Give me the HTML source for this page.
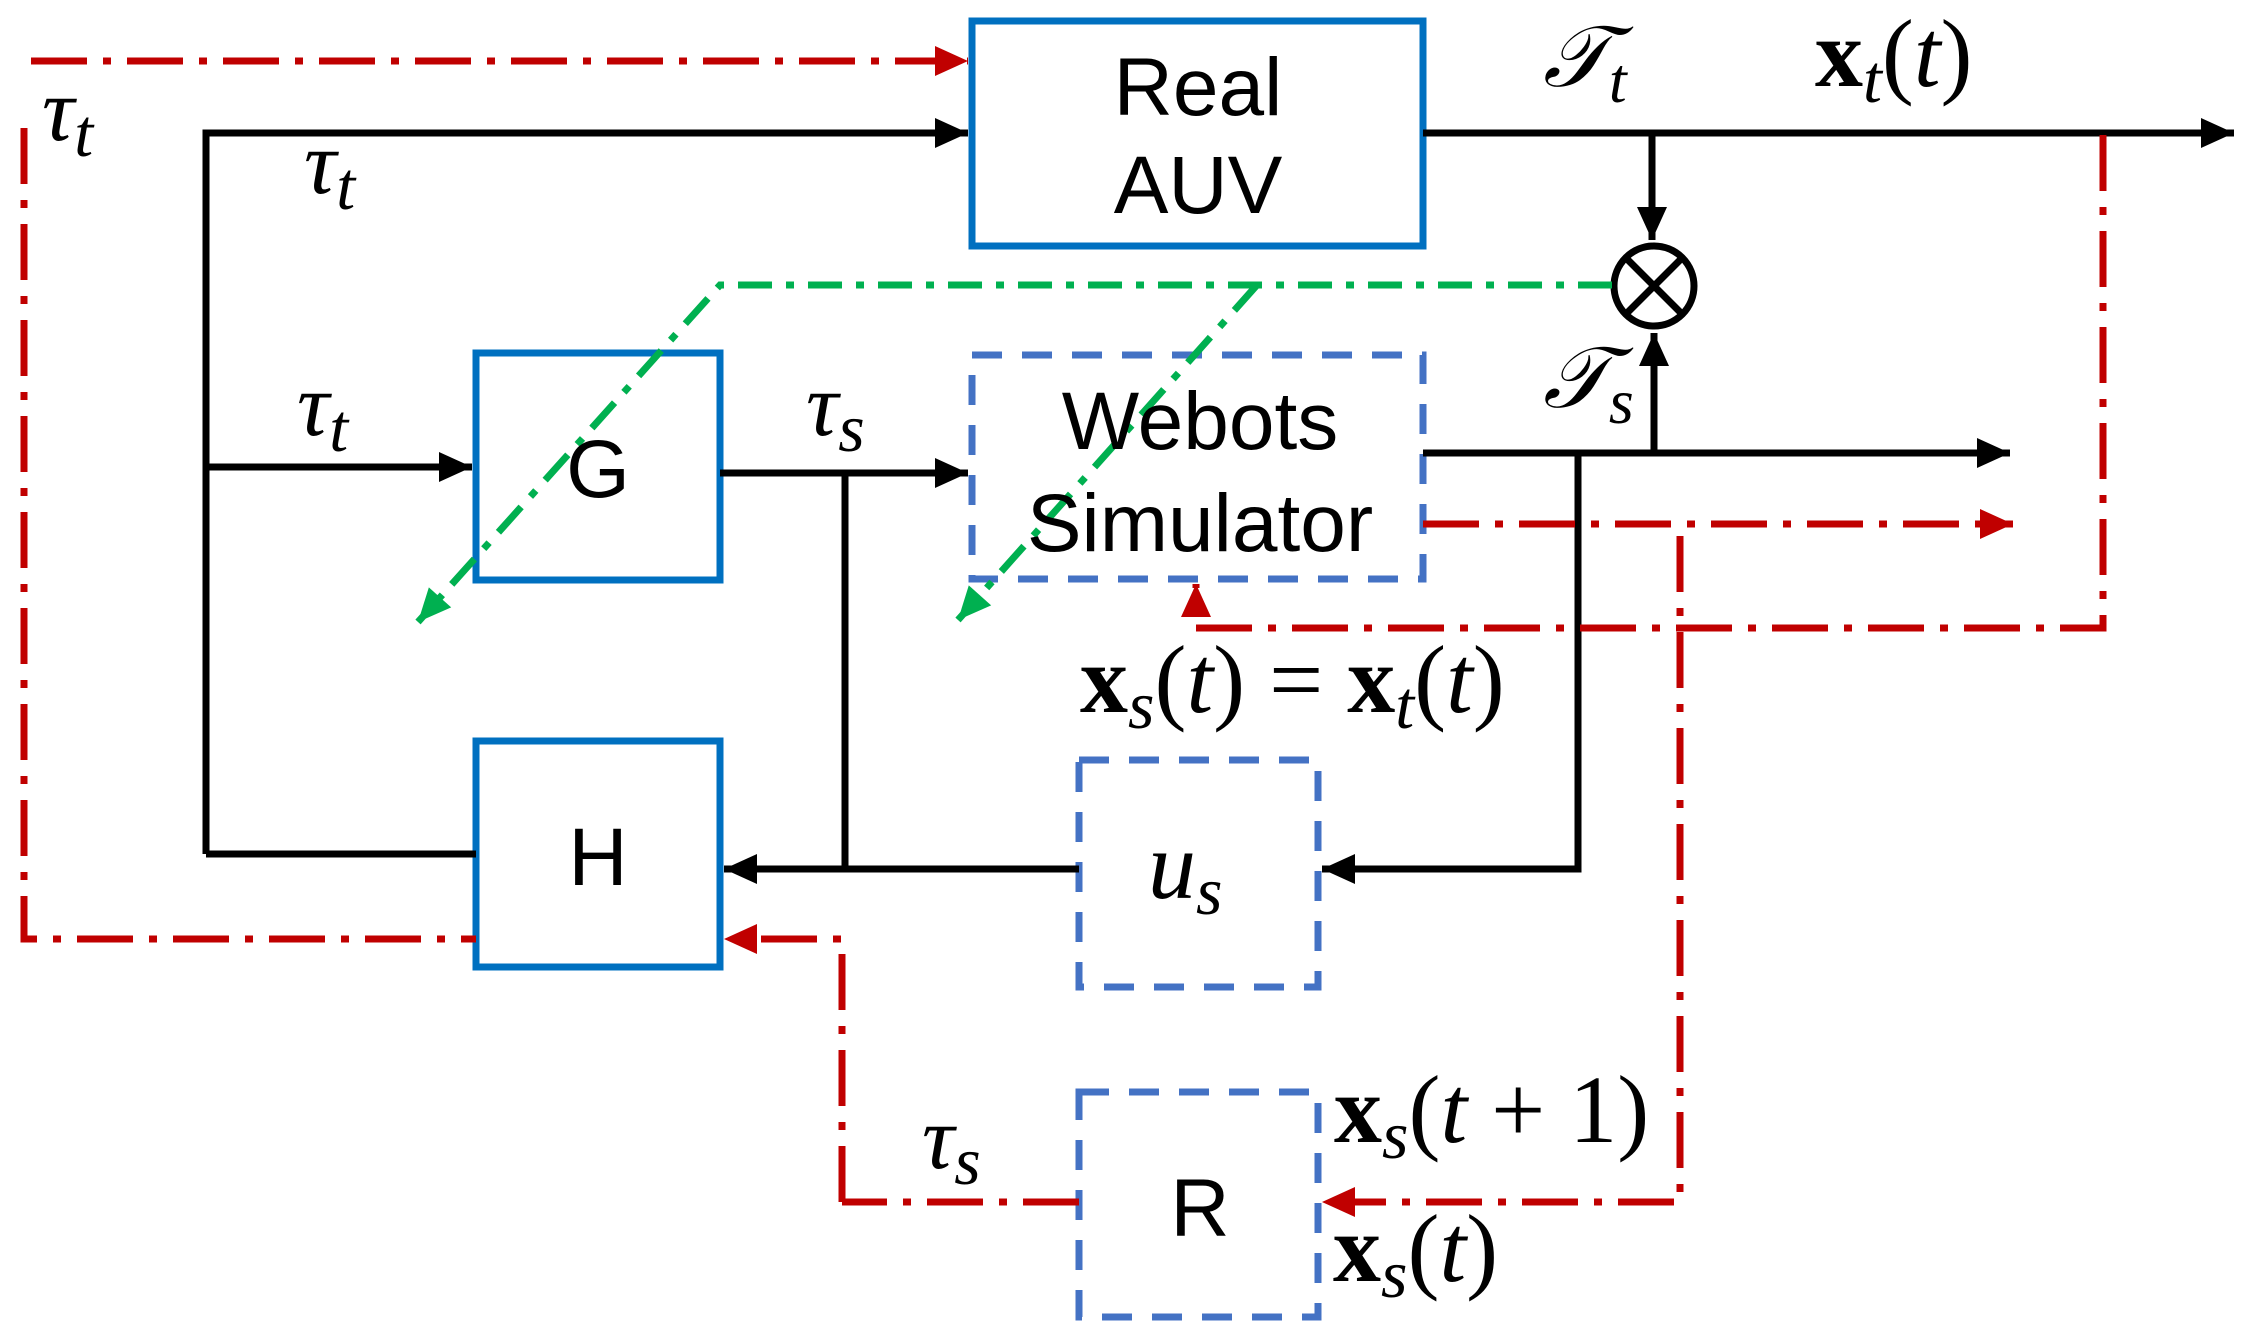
<!DOCTYPE html>
<html><head><meta charset="utf-8"><style>
html,body{margin:0;padding:0;background:#fff}
svg{display:block}
.m{font-family:"Liberation Serif","DejaVu Serif",serif;font-style:italic;fill:#000}
.b{font-family:"Liberation Serif","DejaVu Serif",serif;font-weight:bold;font-style:normal}
.n{font-family:"Liberation Serif",serif;font-style:normal}
.t{font-family:"Liberation Sans","DejaVu Sans",sans-serif;fill:#000;font-size:82px;text-anchor:middle}
</style></head><body>
<svg width="2252" height="1341" viewBox="0 0 2252 1341" xmlns="http://www.w3.org/2000/svg">
<defs>
<marker id="ak" markerWidth="10" markerHeight="10" refX="9" refY="5" orient="auto" markerUnits="userSpaceOnUse" viewBox="0 0 10 10" style="overflow:visible"><path d="M-24,-10 L9,5 L-24,20 Z" fill="#000"/></marker>
<marker id="ar" markerWidth="10" markerHeight="10" refX="9" refY="5" orient="auto" markerUnits="userSpaceOnUse" viewBox="0 0 10 10" style="overflow:visible"><path d="M-24,-10 L9,5 L-24,20 Z" fill="#C00000"/></marker>
<marker id="ag" markerWidth="10" markerHeight="10" refX="9" refY="5" orient="auto" markerUnits="userSpaceOnUse" viewBox="0 0 10 10" style="overflow:visible"><path d="M-24,-10 L9,5 L-24,20 Z" fill="#00B050"/></marker>
</defs>
<g fill="none" stroke-width="7">
<rect x="972" y="21" width="451" height="225" stroke="#0070C0"/>
<rect x="476" y="353" width="244" height="227" stroke="#0070C0"/>
<rect x="476" y="741" width="244" height="226" stroke="#0070C0"/>
<g stroke="#4472C4" stroke-dasharray="30 20">
<rect x="972" y="355" width="451" height="224"/>
<rect x="1079" y="760" width="239" height="227"/>
<rect x="1079" y="1092" width="239" height="225"/>
</g>
<g stroke="#000">
<path d="M206 854 V133 H968" marker-end="url(#ak)"/>
<path d="M206 467 H472" marker-end="url(#ak)"/>
<path d="M206 854 H476"/>
<path d="M720 473 H968" marker-end="url(#ak)"/>
<path d="M845 473 V869"/>
<path d="M1079 869 H724" marker-end="url(#ak)"/>
<path d="M1423 133 H2234" marker-end="url(#ak)"/>
<path d="M1652 133 V240" marker-end="url(#ak)"/>
<path d="M1423 453 H2010" marker-end="url(#ak)"/>
<path d="M1654 453 V333" marker-end="url(#ak)"/>
<path d="M1578 453 V869 H1322" marker-end="url(#ak)"/>
<circle cx="1654" cy="286" r="40"/>
<path d="M1626 258 L1682 314 M1682 258 L1626 314"/>
</g>
<g stroke="#C00000" stroke-dasharray="56 16 8 16">
<path d="M24 128 V939 H476"/>
<path d="M31 61 H968" marker-end="url(#ar)"/>
<path d="M842 1202 V939 H724" marker-end="url(#ar)"/>
<path d="M1079 1202 H842"/>
<path d="M1423 524 H2013" marker-end="url(#ar)"/>
<path d="M2103 135 V628 H1196 V584" marker-end="url(#ar)"/>
<path d="M1680 536 V1202 H1322" marker-end="url(#ar)"/>
</g>
<g stroke="#00B050" stroke-dasharray="34 14 8 14">
<path d="M1612 285 H720 L418 622" marker-end="url(#ag)"/>
<path d="M1257 285 L958 620" marker-end="url(#ag)"/>
</g>
</g>
<text class="t" x="1198" y="115">Real</text>
<text class="t" x="1198" y="213">AUV</text>
<text class="t" x="1200" y="449">Webots</text>
<text class="t" x="1200" y="551">Simulator</text>
<text class="t" x="598" y="497">G</text>
<text class="t" x="598" y="885">H</text>
<text class="t" x="1200" y="1236">R</text>
<text class="m" font-size="90" x="42" y="140">τ<tspan font-size="68" dy="16">t</tspan></text>
<text class="m" font-size="90" x="304" y="193">τ<tspan font-size="68" dy="16">t</tspan></text>
<text class="m" font-size="90" x="297" y="435">τ<tspan font-size="68" dy="16">t</tspan></text>
<text class="m" font-size="90" x="806" y="435">τ<tspan font-size="68" dy="16">s</tspan></text>
<text class="m" font-size="90" x="922" y="1168">τ<tspan font-size="68" dy="16">s</tspan></text>
<text class="m" font-size="86" x="1543" y="86">𝒯<tspan font-size="64" dy="16">t</tspan></text>
<text class="m" font-size="86" x="1543" y="407">𝒯<tspan font-size="64" dy="16">s</tspan></text>
<text class="m" font-size="96" x="1815" y="86"><tspan class="b">x</tspan><tspan font-size="68" dy="16">t</tspan><tspan dy="-16" class="n">(</tspan>t<tspan class="n">)</tspan></text>
<text class="m" font-size="96" x="1080" y="712"><tspan class="b">x</tspan><tspan font-size="68" dy="16">s</tspan><tspan dy="-16" class="n">(</tspan>t<tspan class="n">) = </tspan><tspan class="b">x</tspan><tspan font-size="68" dy="16">t</tspan><tspan dy="-16" class="n">(</tspan>t<tspan class="n">)</tspan></text>
<text class="m" font-size="96" x="1148" y="898">u<tspan font-size="68" dy="16">s</tspan></text>
<text class="m" font-size="96" x="1334" y="1142"><tspan class="b">x</tspan><tspan font-size="68" dy="16">s</tspan><tspan dy="-16" class="n">(</tspan>t<tspan class="n"> + 1)</tspan></text>
<text class="m" font-size="96" x="1333" y="1281"><tspan class="b">x</tspan><tspan font-size="68" dy="16">s</tspan><tspan dy="-16" class="n">(</tspan>t<tspan class="n">)</tspan></text>
</svg>
</body></html>
